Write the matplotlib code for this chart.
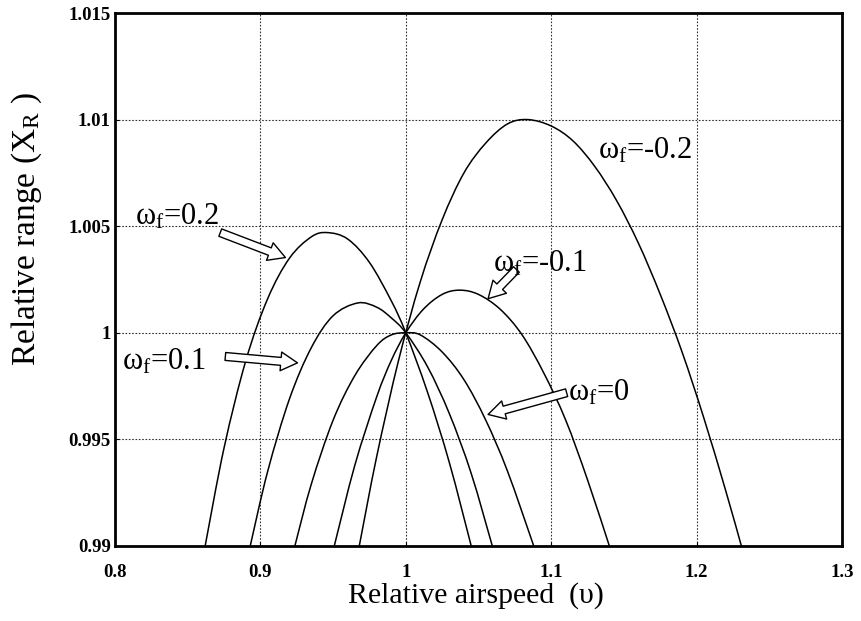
import numpy as np
import matplotlib
matplotlib.use("Agg")
import matplotlib.pyplot as plt
from matplotlib.path import Path
from matplotlib.patches import PathPatch

plt.rcParams['font.family'] = ['Liberation Serif', 'DejaVu Serif']
plt.rcParams['mathtext.fontset'] = 'custom'
plt.rcParams['mathtext.rm'] = 'Liberation Serif'
plt.rcParams['mathtext.it'] = 'Liberation Serif:italic'

# relative airspeed / relative range samples for each wind factor
v_p02 = [0.862, 0.875, 0.890, 0.905, 0.920, 0.935, 0.946, 0.960, 0.975, 0.990, 1.000, 1.015, 1.030, 1.045]
x_p02 = [0.9900, 0.9946, 0.9987, 1.0016, 1.0035, 1.0045, 1.0047, 1.0044, 1.0033, 1.0015, 1.0000, 0.9972, 0.9939, 0.9900]

v_p01 = [0.893, 0.905, 0.920, 0.935, 0.950, 0.967, 0.980, 0.990, 1.000, 1.015, 1.030, 1.045, 1.0595]
x_p01 = [0.9900, 0.9935, 0.9969, 0.9993, 1.0008, 1.0014, 1.0012, 1.0007, 1.0000, 0.9984, 0.9962, 0.9934, 0.9900]

v_0 = [0.9237, 0.935, 0.950, 0.965, 0.980, 0.990, 1.000, 1.010, 1.025, 1.040, 1.055, 1.070, 1.088]
x_0 = [0.9900, 0.9929, 0.9959, 0.9980, 0.9994, 0.9999, 1.0000, 0.9999, 0.9991, 0.9978, 0.9959, 0.9935, 0.9900]

v_m01 = [0.9508, 0.965, 0.980, 0.990, 1.000, 1.012, 1.025, 1.037, 1.050, 1.065, 1.080, 1.095, 1.110, 1.125, 1.140]
x_m01 = [0.9900, 0.9938, 0.9970, 0.9987, 1.0000, 1.0011, 1.0018, 1.0020, 1.0018, 1.0011, 0.9999, 0.9981, 0.9959, 0.9931, 0.9900]

v_m02 = [0.968, 0.980, 0.995, 1.010, 1.025, 1.040, 1.055, 1.070, 1.084, 1.100, 1.115, 1.130,
         1.145, 1.160, 1.175, 1.190, 1.205, 1.220, 1.2308]
x_m02 = [0.9900, 0.9942, 0.9987, 1.0024, 1.0053, 1.0075, 1.0089, 1.0098, 1.0100, 1.0097, 1.0090, 1.0078,
         1.0062, 1.0042, 1.0018, 0.9991, 0.9960, 0.9926, 0.9900]

curves = [(v_p02, x_p02), (v_p01, x_p01), (v_0, x_0), (v_m01, x_m01), (v_m02, x_m02)]

x_ticks = [0.8, 0.9, 1.0, 1.1, 1.2, 1.3]
x_tick_labels = ['0.8', '0.9', '1', '1.1', '1.2', '1.3']
y_ticks = [0.99, 0.995, 1.0, 1.005, 1.01, 1.015]
y_tick_labels = ['0.99', '0.995', '1', '1.005', '1.01', '1.015']

# (label, text anchor, arrow tail, arrow tip) -- None when no arrow
labels = [
    (r'$\mathregular{\omega_f}$=0.2', (0.8138, 1.00508), (0.8724, 1.00470), (0.9172, 1.00353)),
    (r'$\mathregular{\omega_f}$=0.1', (0.8048, 0.99828), (0.8759, 0.99889), (0.9255, 0.99859)),
    (r'$\mathregular{\omega_f}$=0', (1.1117, 0.99684), (1.1106, 0.99719), (1.0566, 0.99617)),
    (r'$\mathregular{\omega_f}$=-0.1', (1.0600, 1.00289), (1.0761, 1.00297), (1.0566, 1.00160)),
    (r'$\mathregular{\omega_f}$=-0.2', (1.1324, 1.00816), None, None),
]


def smooth_path(xs, ys):
    # Catmull-Rom through the samples, written as cubic Bezier segments
    p = np.column_stack([xs, ys])
    n = len(p)
    verts = [p[0]]
    codes = [Path.MOVETO]
    for i in range(n - 1):
        p0 = p[i - 1] if i > 0 else p[i]
        p3 = p[i + 2] if i + 2 < n else p[i + 1]
        c1 = p[i] + (p[i + 1] - p0) / 6.0
        c2 = p[i + 1] - (p3 - p[i]) / 6.0
        verts += [c1, c2, p[i + 1]]
        codes += [Path.CURVE4] * 3
    return Path(verts, codes)


fig = plt.figure(figsize=(8.61, 6.21), dpi=100)
ax = fig.add_axes([115 / 861, 1 - 546 / 621, 727 / 861, 533 / 621])

ax.set_xlim(0.8, 1.3)
ax.set_ylim(0.99, 1.015)

for xs, ys in curves:
    ax.add_patch(PathPatch(smooth_path(xs, ys), fill=False, ec='black', lw=1.1,
                           clip_on=True, zorder=3))

ax.set_xticks(x_ticks)
ax.set_xticklabels(x_tick_labels)
ax.set_yticks(y_ticks)
ax.set_yticklabels(y_tick_labels)
ax.tick_params(axis='both', direction='in', length=3, width=0.8, labelsize=13.5)
ax.tick_params(axis='x', pad=13)
ax.tick_params(axis='y', pad=3)
for lab in ax.get_xticklabels() + ax.get_yticklabels():
    lab.set_fontweight('bold')

ax.grid(True, color='#333333', linestyle=(0, (1.5, 1.5)), linewidth=0.8)
ax.set_axisbelow(True)
for side in ['left', 'bottom', 'top', 'right']:
    ax.spines[side].set_linewidth(2.0)

for text, pos, tail, tip in labels:
    ax.text(pos[0], pos[1], text, fontsize=22, ha='left', va='baseline', zorder=5)
    if tail is not None:
        ax.annotate('', xy=tip, xytext=tail, zorder=4,
                    arrowprops=dict(arrowstyle='simple,head_length=0.8,head_width=0.9,tail_width=0.38',
                                    fc='white', ec='black', lw=1.0, mutation_scale=15,
                                    shrinkA=0, shrinkB=0))

fig.text(476 / 861, 1 - 596 / 621, 'Relative airspeed  (\u03c5)', fontsize=21.5,
         ha='center', va='center')
fig.text(27 / 861, 1 - 229 / 621, r'Relative range (X$_\mathregular{R}$ )', fontsize=24,
         ha='center', va='center', rotation=90)

fig.savefig('out.png', dpi=100)
